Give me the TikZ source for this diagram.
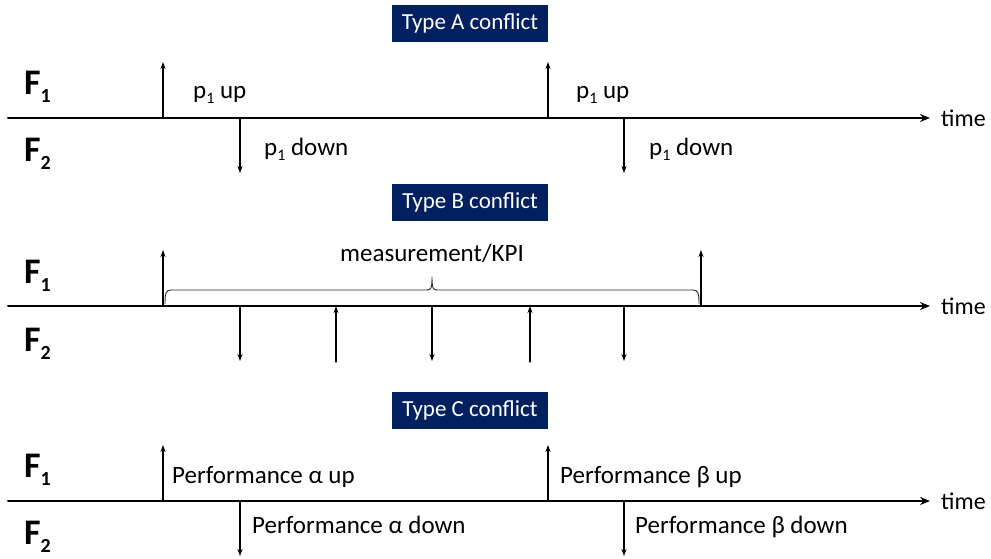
\documentclass[tikz,border=0pt]{standalone}
\usepackage{fontspec}
\setmainfont{Carlito}
\usepackage{tkz-euclide}
\usetikzlibrary{arrows.meta}
\definecolor{navy}{HTML}{002060}
\newcommand\fsub[1]{\raisebox{-8pt}{\fontsize{20}{20}\selectfont #1}}
\newcommand\tsub[1]{\raisebox{-5pt}{\fontsize{16}{16}\selectfont #1}}

\begin{document}
\begin{tikzpicture}[x=1pt, y=1pt,
    axis/.style = {line width=2pt, -{Stealth[length=10pt, width=8pt]}},
    event/.style = {line width=1.3pt, -{Stealth[length=7pt, width=5pt]}},
    typebox/.style = {fill=navy, text=white, minimum width=156pt, minimum height=37pt, inner sep=0pt, font=\fontsize{23}{23}\selectfont},
    flabel/.style = {anchor=base west, inner sep=0pt, font=\fontsize{36}{36}\selectfont\bfseries},
    txt/.style = {anchor=base west, inner sep=0pt, font=\fontsize{25}{25}\selectfont}]
    \useasboundingbox (0,0) rectangle (991,559);
    % type A
    \tkzDefPoints{8/441/A0, 930/441/A9, 163/441/Au, 240/441/Ad, 548/441/Bu, 624/441/Bd}
    \tkzDefShiftPoint[Au](90:56){Aut}
    \tkzDefShiftPoint[Ad](-90:55){Adt}
    \tkzDefShiftPoint[Bu](90:56){But}
    \tkzDefShiftPoint[Bd](-90:55){Bdt}
    \tkzDrawSegments[axis](A0,A9)
    \tkzDrawSegments[event](Au,Aut Ad,Adt Bu,But Bd,Bdt)
    \node[typebox] (typeA) at (470,535.5) {Type A conflict};
    \node[flabel] (AF1) at (24,464) {F\fsub{1}};
    \node[flabel] (AF2) at (24,397) {F\fsub{2}};
    \node[txt] (Aup1) at (193,460) {p\tsub{1} up};
    \node[txt] (Adown1) at (264,403) {p\tsub{1} down};
    \node[txt] (Aup2) at (576,460) {p\tsub{1} up};
    \node[txt] (Adown2) at (649,403) {p\tsub{1} down};
    \node[txt, font=\fontsize{24}{24}\selectfont] (Atime) at (941,432) {time};
    % type B
    \tkzDefPoints{8/253/B0, 930/253/B9, 163/253/Ku, 701/253/Lu, 240/253/K1, 336/253/K2, 432/253/K3, 530/253/K4, 624/253/K5}
    \tkzDefShiftPoint[Ku](90:56){Kut}
    \tkzDefShiftPoint[Lu](90:56){Lut}
    \tkzDefShiftPoint[K1](-90:55){K1t}
    \tkzDefShiftPoint[K2](-90:56){K2t}
    \tkzDefShiftPoint[K3](-90:55){K3t}
    \tkzDefShiftPoint[K4](-90:56){K4t}
    \tkzDefShiftPoint[K5](-90:55){K5t}
    \tkzDrawSegments[axis](B0,B9)
    \tkzDrawSegments[event](Ku,Kut Lu,Lut K1,K1t K3,K3t K5,K5t K2t,K2 K4t,K4)
    % brace over the measurement window
    \tkzDefPoints{165/255/Kb, 699/255/Lb, 432/282/Kc}
    \draw[line width=0.9pt, black!85] (Kb) .. controls (165,266) and (166,269) .. (171,269)
        -- (427,269) .. controls (431,269) and (432,271) .. (Kc)
        .. controls (432,271) and (433,269) .. (437,269)
        -- (693,269) .. controls (698,269) and (699,266) .. (Lb);
    \node[typebox] (typeB) at (470,356.5) {Type B conflict};
    \node[flabel] (BF1) at (24,275) {F\fsub{1}};
    \node[flabel] (BF2) at (24,207) {F\fsub{2}};
    \node[txt, anchor=base] (kpi) at (432,297) {measurement/KPI};
    \node[txt, font=\fontsize{24}{24}\selectfont] (Btime) at (941,244) {time};
    % type C
    \tkzDefPoints{8/58/C0, 930/58/C9, 163/58/Cu, 240/58/Cd, 548/58/Du, 624/58/Dd}
    \tkzDefShiftPoint[Cu](90:56){Cut}
    \tkzDefShiftPoint[Cd](-90:55){Cdt}
    \tkzDefShiftPoint[Du](90:56){Dut}
    \tkzDefShiftPoint[Dd](-90:55){Ddt}
    \tkzDrawSegments[axis](C0,C9)
    \tkzDrawSegments[event](Cu,Cut Cd,Cdt Du,Dut Dd,Ddt)
    \node[typebox] (typeC) at (470,148.5) {Type C conflict};
    \node[flabel] (CF1) at (24,81) {F\fsub{1}};
    \node[flabel] (CF2) at (24,14) {F\fsub{2}};
    \node[txt] (Cup) at (172,75) {Performance α up};
    \node[txt] (Cdown) at (252,25) {Performance α down};
    \node[txt] (Dup) at (560,75) {Performance β up};
    \node[txt] (Ddown) at (635,25) {Performance β down};
    \node[txt, font=\fontsize{24}{24}\selectfont] (Ctime) at (941,49) {time};
\end{tikzpicture}
\end{document}
